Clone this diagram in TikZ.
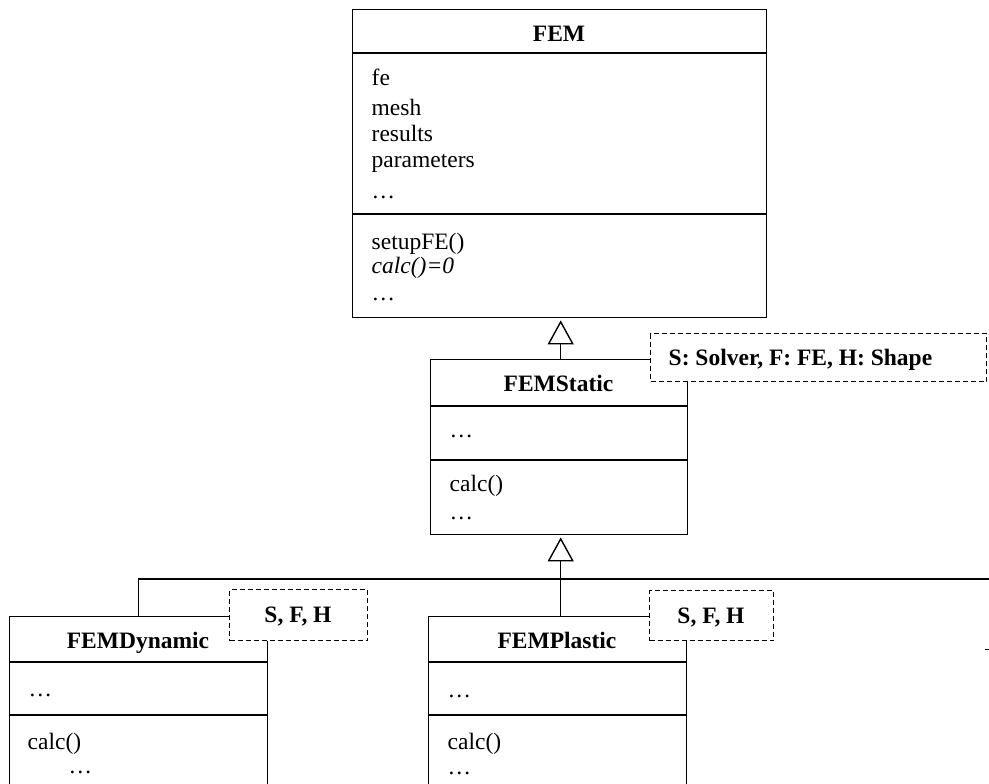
\documentclass[tikz,border=0pt]{standalone}
\usepackage{fontspec}
\setmainfont{Liberation Serif}
\usetikzlibrary{arrows.meta}
\begin{document}
\begin{tikzpicture}[x=1pt,y=-1pt, line width=1.4pt,
  classbox/.style={draw, fill=white, anchor=north west, inner sep=0pt, line width=1.4pt},
  notebox/.style={draw, dash pattern=on 5pt off 3pt, fill=white, anchor=north west, inner sep=0pt, line width=1.2pt},
  titletxt/.style={font=\bfseries\fontsize{23.5}{28}\selectfont, anchor=base, inner sep=0pt},
  membertxt/.style={font=\fontsize{23.5}{28}\selectfont, anchor=base west, inner sep=0pt},
  sepline/.style={line width=1.4pt},
  inh/.style={-{Triangle[open,length=24pt,width=26pt]}, line width=1.4pt}]
\useasboundingbox (0,0) rectangle (989,784);
\clip (0,0) rectangle (989,784);

% FEM
\node[classbox, minimum width=414pt, minimum height=308pt] (fem) at (352,9) {};
\draw[sepline] (352,53) -- (766,53);
\draw[sepline] (352,214) -- (766,214);
\node[titletxt] (femt) at (559,42) {FEM};
\node[membertxt] (fem1) at (371,86) {fe};
\node[membertxt] (fem2) at (371,115) {mesh};
\node[membertxt] (fem3) at (371,142) {results};
\node[membertxt] (fem4) at (371,167) {parameters};
\node[membertxt] (fem5) at (371,198) {…};
\node[membertxt] (fem6) at (371,249) {setupFE()};
\node[membertxt] (fem7) at (371,273) {\textit{calc()=0}};
\node[membertxt] (fem8) at (371,300) {…};

% FEMStatic
\node[classbox, minimum width=257pt, minimum height=175pt] (fst) at (430,359) {};
\draw[sepline] (430,406) -- (687,406);
\draw[sepline] (430,460) -- (687,460);
\node[titletxt] (fstt) at (558.5,391) {FEMStatic};
\node[membertxt] (fst1) at (449,437) {…};
\node[membertxt] (fst2) at (449,491) {calc()};
\node[membertxt] (fst3) at (449,519) {…};
\node[notebox, minimum width=336pt, minimum height=48pt] (n1) at (650,333) {};
\node[titletxt, anchor=base west] (n1t) at (668,365) {S: Solver, F: FE, H: Shape};

% FEMDynamic
\node[classbox, minimum width=258pt, minimum height=200pt] (fdy) at (9,616) {};
\draw[sepline] (9,662) -- (267,662);
\draw[sepline] (9,715) -- (267,715);
\node[titletxt] (fdyt) at (138,648) {FEMDynamic};
\node[membertxt] (fdy1) at (28,696) {…};
\node[membertxt] (fdy2) at (27,749) {calc()};
\node[membertxt] (fdy3) at (68,773) {…};
\node[notebox, minimum width=138pt, minimum height=51pt] (n2) at (229,589) {};
\node[titletxt] (n2t) at (298,622) {S, F, H};

% FEMPlastic
\node[classbox, minimum width=258pt, minimum height=200pt] (fpl) at (428,616) {};
\draw[sepline] (428,662) -- (686,662);
\draw[sepline] (428,715) -- (686,715);
\node[titletxt] (fplt) at (557,648) {FEMPlastic};
\node[membertxt] (fpl1) at (447,697) {…};
\node[membertxt] (fpl2) at (447,749) {calc()};
\node[membertxt] (fpl3) at (447,774) {…};
\node[notebox, minimum width=124pt, minimum height=50pt] (n3) at (649,590) {};
\node[titletxt] (n3t) at (711,623) {S, F, H};

% inheritance
\draw[inh, shorten >=2pt] ([xshift=1.5pt]fst.north) -- ([xshift=1.5pt]fst.north |- fem.south);
\draw[inh, shorten >=2pt] ([xshift=3pt]fpl.north) -- ([xshift=3pt]fpl.north |- fst.south);
\coordinate (rend) at (995,579);
\draw (fdy.north) |- (rend);

% stray mark at right edge
\draw[line width=1pt] (985,649) -- (992,649);
\end{tikzpicture}
\end{document}
